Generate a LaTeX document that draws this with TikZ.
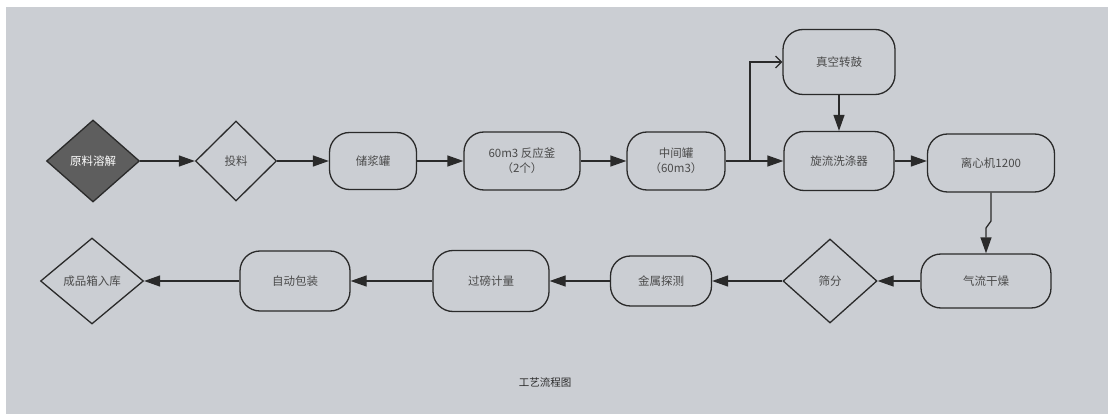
\documentclass[tikz,border=0pt]{standalone}
\usepackage{fontspec}
\newfontfamily\cjk{Noto Sans CJK SC}
\usetikzlibrary{shapes.geometric,arrows.meta}
\definecolor{bg}{HTML}{CBCED3}
\definecolor{lc}{HTML}{2A2A2A}
\definecolor{tc}{HTML}{4A4A4A}
\definecolor{dk}{HTML}{5E5E5E}
\begin{document}
\begin{tikzpicture}[x=1pt,y=-1pt,
  proc/.style={draw=lc, line width=1.3pt, rounded corners=20pt, inner sep=0pt,
    font=\cjk\fontsize{11.5}{15}\selectfont, text=tc, align=center},
  dia/.style={diamond, draw=lc, line width=1.3pt, inner sep=0pt, aspect=1,
    font=\cjk\fontsize{11.5}{15}\selectfont, text=tc, align=center},
  tip/.tip={Triangle[length=16pt,width=11pt,fill=lc]},
  flow/.style={draw=lc, line width=1.3pt, -tip},
  open/.style={draw=lc, line width=1.2pt, -{Straight Barb[length=6pt,width=12pt]}}]
\fill[white] (0,0) rectangle (1108,414);
\fill[bg] (6,7) rectangle (1108,414);
\useasboundingbox (0,0) rectangle (1108,414);
% row 1
\node[dia, fill=dk, text=white, minimum width=93pt, minimum height=82pt] (yl) at (93,161) {原料溶解};
\node[dia, minimum width=81pt, minimum height=80pt] (tl) at (236,161) {投料};
\node[proc, minimum width=87pt, minimum height=57pt] (cj) at (373,161) {储浆罐};
\node[proc, minimum width=116pt, minimum height=58pt] (fy) at (522,161) {60m3 反应釜\\（2个）};
\node[proc, minimum width=98pt, minimum height=58pt] (zj) at (676,161) {中间罐\\（60m3）};
\node[proc, minimum width=112pt, minimum height=65pt] (zk) at (839,62) {真空转鼓};
\node[proc, minimum width=110pt, minimum height=59pt] (xl) at (839,161) {旋流洗涤器};
\node[proc, minimum width=127pt, minimum height=58pt] (lx) at (991,163) {离心机1200};
% row 2
\node[proc, minimum width=130pt, minimum height=54pt] (qg) at (986,281) {气流干燥};
\node[dia, minimum width=94pt, minimum height=84pt] (sf) at (830,281) {筛分};
\node[proc, minimum width=101pt, minimum height=50pt] (js) at (661,281) {金属探测};
\node[proc, minimum width=116pt, minimum height=61pt] (gb) at (491,281) {过磅计量};
\node[proc, minimum width=110pt, minimum height=60pt] (zb) at (295,281) {自动包装};
\node[dia, minimum width=103pt, minimum height=86pt] (cp) at (92,281) {成品箱入库};
% title
\node[font=\cjk\fontsize{10.5}{12}\selectfont, text=lc] (tt) at (545,383) {工艺流程图};
% connectors row 1
\draw[flow] (yl.east) -- (tl.west);
\draw[flow] (tl.east) -- (cj.west);
\draw[flow] (cj.east) -- (fy.west);
\draw[flow] (fy.east) -- (zj.west);
\coordinate (br) at (750,161);
\draw[flow] (zj.east) -- (br) -- (xl.west);
\draw[open] (br) |- (zk.west);
\draw[flow] (zk.south) -- (xl.north);
\draw[flow] (xl.east) -- (lx.west |- xl.east);
\coordinate (j1) at (991,221);
\coordinate (j2) at (986,228);
\draw[flow] (lx.south) -- (j1) -- (j2) -- (qg.north);
% connectors row 2
\draw[flow] (qg.west) -- (sf.east);
\draw[flow] (sf.west) -- (js.east);
\draw[flow] (js.west) -- (gb.east);
\draw[flow] (gb.west) -- (zb.east);
\draw[flow] (zb.west) -- (cp.east);
\end{tikzpicture}
\end{document}
